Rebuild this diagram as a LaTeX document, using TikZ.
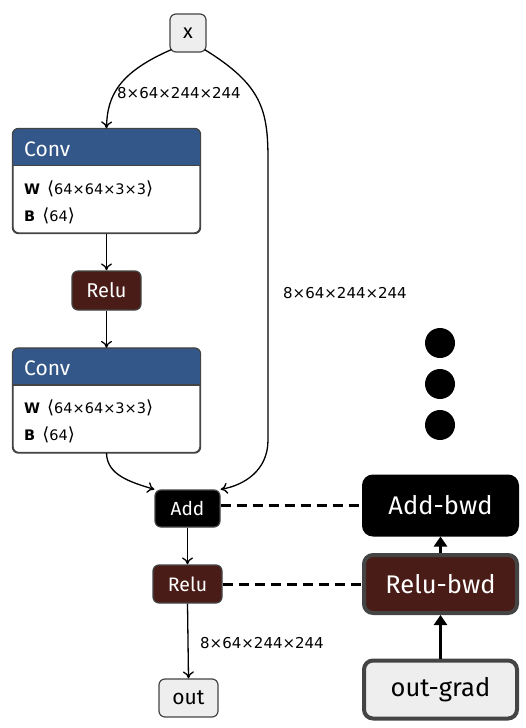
\documentclass[tikz,border=0pt]{standalone}
\usepackage{fontspec}
\setmainfont{Fira Sans}
\newfontfamily\lblfont{DejaVu Sans}
\usetikzlibrary{arrows.meta,calc}
\definecolor{convblue}{HTML}{34578A}
\definecolor{relubrown}{HTML}{4A1C17}
\definecolor{lightg}{HTML}{EEEEEE}
\definecolor{edgeg}{HTML}{444444}
\newcommand{\lang}{{\fontsize{18}{18}\selectfont⟨}}
\newcommand{\rang}{{\fontsize{18}{18}\selectfont⟩}}
\begin{document}
\begin{tikzpicture}[x=1pt,y=-1pt,
  box/.style={draw=edgeg,line width=1.2pt,rounded corners=6pt,inner sep=0pt,align=center},
  iobox/.style={box,fill=lightg,text=black,font=\fontsize{20}{20}\selectfont},
  relubox/.style={box,fill=relubrown,text=white,font=\fontsize{20}{20}\selectfont},
  addbox/.style={box,fill=black,text=white,font=\fontsize{19}{19}\selectfont},
  convbox/.style={box,fill=white,minimum width=187pt,minimum height=104pt},
  bigbox/.style={draw=edgeg,line width=4pt,rounded corners=9pt,inner sep=0pt,minimum width=153pt,minimum height=58pt,font=\fontsize{25.5}{25.5}\selectfont},
  lbl/.style={font=\lblfont\fontsize{15}{15}\selectfont,inner sep=0pt,anchor=west},
  param/.style={font=\lblfont\fontsize{14.5}{14.5}\selectfont,inner sep=0pt,anchor=west},
  edge/.style={line width=1.3pt,-{To[length=7pt,width=11pt]}},
  bwd/.style={line width=3pt,-{Triangle[length=10pt,width=13pt]}},
  link/.style={line width=3pt,dash pattern=on 10pt off 6pt},
  dot/.style={circle,fill=black,minimum size=30pt,inner sep=0pt}]
\useasboundingbox (0,0) rectangle (526,728);

% forward nodes
\node[iobox,minimum width=36pt,minimum height=38pt] (x) at (188,33) {x};
\node[convbox] (c1) at (106.5,181) {};
\node[relubox,minimum width=69pt,minimum height=39pt] (r1) at (106.5,290.5) {Relu};
\node[convbox] (c2) at (106.5,400.5) {};
\node[addbox,minimum width=65pt,minimum height=37pt] (add) at (187.5,508.5) {Add};
\node[relubox,minimum width=69pt,minimum height=38pt,font=\fontsize{19.5}{19.5}\selectfont] (r2) at (187.5,584) {Relu};
\node[iobox,minimum width=59pt,minimum height=38pt,font=\fontsize{21}{21}\selectfont] (out) at (188.5,698) {out};

% conv headers
\foreach \c in {c1,c2}{
  \begin{scope}
    \clip[rounded corners=6pt] (\c.north west) rectangle (\c.south east);
    \fill[convblue] (\c.north west) rectangle ($(\c.north east)+(0,37)$);
  \end{scope}
  \draw[edgeg,line width=1.2pt] ($(\c.north west)+(0,37)$) -- ($(\c.north east)+(0,37)$);
  \draw[edgeg,line width=1.2pt,rounded corners=6pt] (\c.north west) rectangle (\c.south east);
}
\node[font=\fontsize{21}{21}\selectfont,text=white,anchor=west,inner sep=0pt] (c1t) at (24,149) {Conv};
\node[param] (c1w) at (24,189) {\textbf{W} \,\lang64×64×3×3\rang};
\node[param] (c1b) at (24,216) {\textbf{B} \,\lang64\rang};
\node[font=\fontsize{21}{21}\selectfont,text=white,anchor=west,inner sep=0pt] (c2t) at (24,368) {Conv};
\node[param] (c2w) at (24,408) {\textbf{W} \,\lang64×64×3×3\rang};
\node[param] (c2b) at (24,435) {\textbf{B} \,\lang64\rang};

% backward nodes
\node[bigbox,fill=black,text=white,draw=black] (addb) at (440.5,505.5) {Add-bwd};
\node[bigbox,fill=relubrown,text=white] (relub) at (440.5,584) {Relu-bwd};
\node[bigbox,fill=lightg,text=black] (outg) at (440.5,689.5) {out-grad};
\node[dot] (d1) at (440,343) {};
\node[dot] (d2) at (440,384) {};
\node[dot] (d3) at (440,425) {};

% forward edges
\draw[edge] (x.south west) ++(2,-3) .. controls (120,72) and (107,95) .. (c1.north);
\node[lbl] (l1) at (117,93) {8×64×244×244};
\draw[edge] (x.south east) ++(-2,-3) .. controls (262,85) and (268,110) .. (268,160) -- (268,440) .. controls (268,470) and (245,485) .. (add.north east);
\node[lbl] (l2) at (283,293) {8×64×244×244};
\draw[edge] (c1.south) -- (r1.north);
\draw[edge] (r1.south) -- (c2.north);
\draw[edge] (c2.south) .. controls (107,475) and (130,482) .. (add.north west);
\draw[edge] (add.south) -- (r2.north);
\draw[edge] (r2.south) -- (out.north);
\node[lbl] (l3) at (200,643) {8×64×244×244};

% links
\draw[link] (add.east) ++(0,-3) -- (addb.west |- 0,505.5);
\draw[link] (r2.east) -- (relub.west);

% backward edges
\draw[bwd] (outg.north) -- (relub.south);
\draw[bwd] (relub.north) -- (addb.south);
\end{tikzpicture}
\end{document}
